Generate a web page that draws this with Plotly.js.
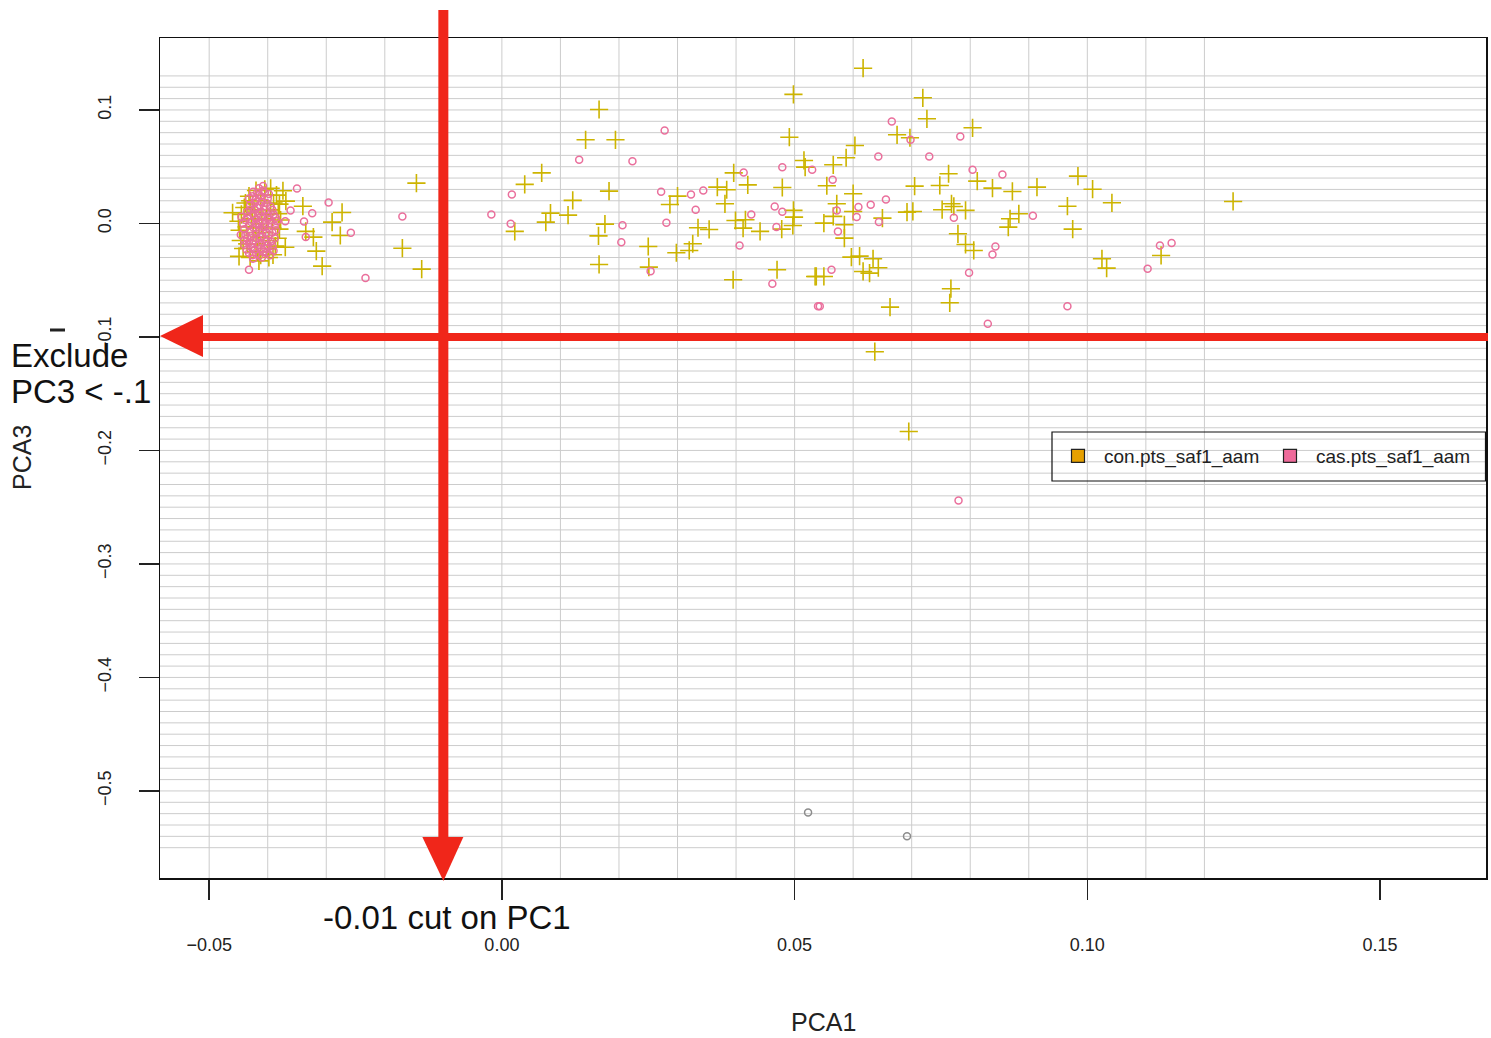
<!DOCTYPE html>
<html>
<head>
<meta charset="utf-8">
<script src="https://cdn.plot.ly/plotly-3.0.1.min.js"></script>
<style>
  html, body { margin: 0; padding: 0; background: #ffffff; }
  #chart { width: 1491px; height: 1038px; }
</style>
</head>
<body>
<div id="chart"></div>
<script>
// ---------------- data ----------------
// con.pts_saf1_aam (controls, "+")
const conX = [
  -0.0146, -0.0170, -0.0137, -0.0273, -0.0290, -0.0276, -0.0317, -0.0307, -0.0322, -0.0335,
  -0.0340, -0.0370, -0.0369, -0.0374, -0.0405, -0.0460, -0.0449, -0.0391, -0.0382,
  -0.0445, -0.0450, -0.0448, -0.0446, -0.0442, -0.0438, -0.0432, -0.0420, -0.0395, -0.0385,
  -0.0380, -0.0378, -0.0380, -0.0383, -0.0387, -0.0398, -0.0415, -0.0430, -0.0436, -0.0426,
  -0.0412, -0.0402, -0.0408, -0.0420, -0.0400, -0.0428, -0.0395, -0.0418, -0.0392, -0.0440,
  -0.0422, -0.0410, -0.0415, -0.0405, -0.0425, -0.0398, -0.0430, -0.0412, -0.0390, -0.0435,
  -0.0402, -0.0420,
  0.0498, 0.0491, 0.0516, 0.0518, 0.0479, 0.0498, 0.0499, 0.0497, 0.0478, 0.0470,
  0.0395, 0.0535, 0.0166, 0.0143, 0.0194, 0.0068, 0.0039, 0.0183, 0.0121, 0.0083,
  0.0075, 0.0113, 0.0022, 0.0176, 0.0165, 0.0166, 0.0250, 0.0251, 0.0298, 0.0320,
  0.0326, 0.0287, 0.0300, 0.0335, 0.0354, 0.0368, 0.0384, 0.0381, 0.0396, 0.0420,
  0.0399, 0.0416, 0.0412, 0.0441,
  0.0617, 0.0719, 0.0726, 0.0804, 0.0675, 0.0697, 0.0603, 0.0588, 0.0566, 0.0555,
  0.0600, 0.0572, 0.0600, 0.0566, 0.0550, 0.0585, 0.0585, 0.0597, 0.0611, 0.0634,
  0.0643, 0.0617, 0.0628, 0.0537, 0.0550, 0.0663, 0.0650, 0.0705, 0.0692, 0.0702,
  0.0763, 0.0748, 0.0768, 0.0772, 0.0752, 0.0792, 0.0812, 0.0838, 0.0872, 0.0914,
  0.0883, 0.0868, 0.0865, 0.0779, 0.0792, 0.0806, 0.0767, 0.0765, 0.0966, 0.0975,
  0.0984, 0.1009, 0.1042, 0.1025, 0.1033, 0.1126, 0.0637, 0.0695, 0.1249
];
const conY = [
  0.0355, -0.0218, -0.0402, 0.0097, 0.0012, -0.0106, -0.0244, -0.0376, -0.0120, -0.0070,
  0.0152, -0.0209, 0.0197, 0.0288, 0.0300, 0.0094, -0.0290, -0.0276, 0.0085,
  0.0080, 0.0020, -0.0060, -0.0150, -0.0220, 0.0180, 0.0240, 0.0290, 0.0310, 0.0250,
  0.0170, 0.0030, -0.0050, -0.0130, -0.0200, -0.0300, -0.0330, -0.0300, -0.0030, 0.0120,
  0.0200, 0.0080, -0.0080, -0.0180, -0.0220, 0.0040, 0.0120, -0.0250, -0.0040, 0.0140,
  0.0100, 0.0000, -0.0120, 0.0250, -0.0080, -0.0150, 0.0200, -0.0280, 0.0180, -0.0180,
  0.0040, -0.0040,
  0.1137, 0.0760, 0.0555, 0.0496, 0.0317, 0.0115, 0.0056, -0.0018, -0.0050, -0.0408,
  -0.0496, -0.0467, 0.1004, 0.0737, 0.0737, 0.0446, 0.0344, 0.0285, 0.0203, 0.0091,
  0.0012, 0.0073, -0.0070, -0.0006, -0.0109, -0.0361, -0.0203, -0.0385, -0.0258, -0.0238,
  -0.0179, 0.0167, 0.0241, -0.0038, -0.0053, 0.0320, 0.0297, 0.0173, 0.0446, 0.0340,
  0.0026, 0.0032, -0.0041, -0.0070,
  0.1368, 0.1107, 0.0922, 0.0843, 0.0781, 0.0755, 0.0687, 0.0579, 0.0517, 0.0332,
  0.0262, 0.0173, 0.0106, 0.0062, 0.0003, -0.0012, -0.0129, -0.0297, -0.0288, -0.0311,
  -0.0390, -0.0423, -0.0438, -0.0467, -0.0467, -0.0737, 0.0047, 0.0329, 0.0100, 0.0106,
  0.0438, 0.0335, 0.0173, 0.0150, 0.0121, 0.0115, 0.0373, 0.0311, 0.0282, 0.0320,
  0.0085, 0.0041, -0.0032, -0.0091, -0.0185, -0.0238, -0.0575, -0.0699, 0.0152, -0.0050,
  0.0417, 0.0302, 0.0182, -0.0311, -0.0394, -0.0282, -0.1130, -0.1833, 0.0194
];

// cas.pts_saf1_aam (cases, "o")
const casX = [
  -0.0350, -0.0361, -0.0324, -0.0296, -0.0338, -0.0370, -0.0335, -0.0258, -0.0233, -0.0170,
  -0.0018, -0.0432,
  -0.0425, -0.0415, -0.0405, -0.0420, -0.0410, -0.0400, -0.0430, -0.0418, -0.0405, -0.0395,
  -0.0435, -0.0425, -0.0412, -0.0400, -0.0390, -0.0438, -0.0428, -0.0418, -0.0405, -0.0395,
  -0.0440, -0.0430, -0.0420, -0.0408, -0.0398, -0.0435, -0.0424, -0.0412, -0.0402, -0.0388,
  -0.0440, -0.0428, -0.0416, -0.0404, -0.0392, -0.0432, -0.0420, -0.0408, -0.0396, -0.0425,
  -0.0410, -0.0445, -0.0446, -0.0384, -0.0386, -0.0415, -0.0408, -0.0422, -0.0414, -0.0410,
  -0.0432, -0.0422, -0.0412, -0.0402, -0.0392, -0.0430, -0.0420, -0.0410, -0.0398, -0.0388,
  -0.0432, -0.0424, -0.0414, -0.0402, -0.0392, -0.0438, -0.0428, -0.0418, -0.0406, -0.0394,
  -0.0432, -0.0422, -0.0412, -0.0400, -0.0390, -0.0436, -0.0426, -0.0414, -0.0402, -0.0418,
  -0.0408, -0.0426, -0.0398, -0.0416, -0.0406, -0.0434, -0.0396, -0.0426, -0.0410, -0.0420,
  -0.0442, -0.0440, -0.0386, -0.0404, -0.0414,
  0.0278, 0.0132, 0.0223, 0.0017, 0.0015, 0.0272, 0.0323, 0.0344, 0.0331, 0.0281,
  0.0206, 0.0204, 0.0254, 0.0413, 0.0426, 0.0406, 0.0462, 0.0479, 0.0466, 0.0479,
  0.0469, 0.0530, 0.0540,
  0.0666, 0.0698, 0.0783, 0.0643, 0.0730, 0.0565, 0.0804, 0.0855, 0.0656, 0.0630,
  0.0609, 0.0572, 0.0606, 0.0644, 0.0574, 0.0772, 0.0907, 0.0563, 0.0543, 0.0798,
  0.0843, 0.0838, 0.0830, 0.0966, 0.1103, 0.1124, 0.1144, 0.0780
];
const casY = [
  0.0308, 0.0115, 0.0090, 0.0185, 0.0018, 0.0020, -0.0120, -0.0082, -0.0480, 0.0062,
  0.0079, -0.0408,
  0.0280, 0.0250, 0.0270, 0.0210, 0.0190, 0.0220, 0.0160, 0.0140, 0.0120, 0.0150,
  0.0100, 0.0080, 0.0060, 0.0040, 0.0080, 0.0030, 0.0010, -0.0010, -0.0030, 0.0000,
  -0.0050, -0.0070, -0.0090, -0.0060, -0.0100, -0.0130, -0.0150, -0.0120, -0.0160, -0.0130,
  -0.0190, -0.0210, -0.0190, -0.0220, -0.0200, -0.0260, -0.0270, -0.0250, -0.0280, -0.0310,
  -0.0300, 0.0060, -0.0100, 0.0020, -0.0060, 0.0310, 0.0330, 0.0120, 0.0020, -0.0170,
  0.0220, 0.0180, 0.0240, 0.0180, 0.0120, 0.0120, 0.0040, 0.0100, 0.0060, -0.0020,
  -0.0020, -0.0040, -0.0060, -0.0080, -0.0080, -0.0100, -0.0110, -0.0130, -0.0140, -0.0160,
  -0.0170, -0.0230, -0.0220, -0.0190, -0.0240, -0.0230, -0.0280, -0.0280, -0.0260, 0.0270,
  0.0290, 0.0240, 0.0260, 0.0090, 0.0150, 0.0060, 0.0030, -0.0180, -0.0030, 0.0000,
  0.0000, -0.0150, 0.0050, 0.0000, 0.0160,
  0.0819, 0.0561, 0.0549, 0.0256, -0.0003, 0.0279, 0.0255, 0.0290, 0.0121, 0.0006,
  -0.0015, -0.0165, -0.0420, 0.0449, 0.0079, -0.0194, -0.0531, 0.0496, 0.0150, 0.0103,
  -0.0032, 0.0473, -0.0730,
  0.0899, 0.0737, 0.0767, 0.0590, 0.0590, 0.0385, 0.0473, 0.0432, 0.0211, 0.0165,
  0.0144, 0.0115, 0.0056, 0.0012, -0.0070, 0.0050, 0.0068, -0.0408, -0.0730, -0.0434,
  -0.0203, -0.0273, -0.0884, -0.0730, -0.0399, -0.0194, -0.0173, -0.2440
];

// unlabelled grey points
const otherX = [0.0523, 0.0692];
const otherY = [-0.5190, -0.5400];

const seriesNames = ['con.pts_saf1_aam', 'cas.pts_saf1_aam'];
const xTickVals = [-0.05, 0.00, 0.05, 0.10, 0.15];
const xTickText = ['\u22120.05', '0.00', '0.05', '0.10', '0.15'];
const yTickVals = [-0.5, -0.4, -0.3, -0.2, -0.1, 0.0, 0.1];
const yTickText = ['\u22120.5', '\u22120.4', '\u22120.3', '\u22120.2', '\u22120.1', '0.0', '0.1'];
const pc1Cut = -0.01;
const pc3Cut = -0.1;

// ---------------- styling ----------------
const conColor = '#cdb400';
const casColor = '#ea6f9c';
const legendCon = '#e6a000';
const legendCas = '#ee6a9a';
const arrowRed = '#f0261a';
const gridColor = '#cccccc';
const xRange = [-0.0584, 0.1681];
const yRange = [-0.5767, 0.1634];
const FONT = 'Liberation Sans, Arial, Helvetica, sans-serif';

const traces = [
  { type: 'scatter', mode: 'markers', x: conX, y: conY, name: seriesNames[0], showlegend: false,
    marker: { symbol: 'cross-thin-open', size: 13, color: conColor, line: { width: 1.6, color: conColor } } },
  { type: 'scatter', mode: 'markers', x: casX, y: casY, name: seriesNames[1], showlegend: false,
    marker: { symbol: 'circle-open', size: 7, color: casColor, line: { width: 1.5, color: casColor } } },
  { type: 'scatter', mode: 'markers', x: otherX, y: otherY, name: 'other', showlegend: false,
    marker: { symbol: 'circle-open', size: 7, color: '#8c8c8c', line: { width: 1.5, color: '#8c8c8c' } } },
  // legend swatches
  { type: 'scatter', mode: 'markers', x: [null], y: [null], name: seriesNames[0], showlegend: true,
    marker: { symbol: 'square', size: 13, color: legendCon, line: { width: 1.2, color: '#222' } } },
  { type: 'scatter', mode: 'markers', x: [null], y: [null], name: seriesNames[1], showlegend: true,
    marker: { symbol: 'square', size: 13, color: legendCas, line: { width: 1.2, color: '#222' } } }
];

// grid lines (every 0.01) drawn as shapes, limited like the original
const shapes = [];
for (let i = -55; i <= 13; i++) {
  const v = i / 100;
  shapes.push({ type: 'line', layer: 'below', xref: 'paper', yref: 'y', x0: 0, x1: 1, y0: v, y1: v,
    line: { color: gridColor, width: 1 } });
}
for (let i = -5; i <= 12; i++) {
  const v = i / 100;
  shapes.push({ type: 'line', layer: 'below', xref: 'x', yref: 'paper', x0: v, x1: v, y0: 0, y1: 1,
    line: { color: gridColor, width: 1 } });
}

const cutPX = (pc1Cut - xRange[0]) / (xRange[1] - xRange[0]);
const cutPY = (pc3Cut - yRange[0]) / (yRange[1] - yRange[0]);

// legend frame (taller than Plotly's own box)
shapes.push({ type: 'rect', layer: 'above', xref: 'paper', yref: 'paper',
  xsizemode: 'pixel', xanchor: 0, x0: 892, x1: 1325.5,
  ysizemode: 'pixel', yanchor: 0, y0: 397, y1: 446,
  line: { color: '#111', width: 1.2 }, fillcolor: 'rgba(0,0,0,0)' });

// vertical red arrow (PC1 cut)
shapes.push({ type: 'line', layer: 'above', xref: 'paper', yref: 'paper',
  x0: cutPX, x1: cutPX, ysizemode: 'pixel', yanchor: 0, y0: 38, y1: 868,
  line: { color: arrowRed, width: 10 } });
shapes.push({ type: 'path', layer: 'above', xref: 'paper', yref: 'paper',
  xsizemode: 'pixel', xanchor: cutPX, ysizemode: 'pixel', yanchor: 0,
  path: 'M -21 41 L 20 41 L 0 -3 Z', fillcolor: arrowRed, line: { width: 0 } });
// horizontal red arrow (PC3 cut)
shapes.push({ type: 'line', layer: 'above', xref: 'paper', yref: 'paper',
  xsizemode: 'pixel', xanchor: 0, x0: 40, x1: 1328, y0: cutPY, y1: cutPY,
  line: { color: arrowRed, width: 8 } });
shapes.push({ type: 'path', layer: 'above', xref: 'paper', yref: 'paper',
  xsizemode: 'pixel', xanchor: 0, ysizemode: 'pixel', yanchor: cutPY,
  path: 'M 0 1 L 43 22 L 43 -20 Z', fillcolor: arrowRed, line: { width: 0 } });
// small dash above "Exclude"
shapes.push({ type: 'line', layer: 'above', xref: 'paper', yref: 'paper',
  xsizemode: 'pixel', xanchor: 0, x0: -110, x1: -95, ysizemode: 'pixel', yanchor: 0, y0: 548, y1: 548,
  line: { color: '#222', width: 3 } });

const annotations = [
  { text: 'Exclude', xref: 'paper', yref: 'paper', x: -151 / 1326, y: (878 - 355) / 840,
    xanchor: 'left', yanchor: 'middle', showarrow: false, font: { family: FONT, size: 33, color: '#111' } },
  { text: 'PC3 &lt; -.1', xref: 'paper', yref: 'paper', x: -151 / 1326, y: (878 - 392) / 840,
    xanchor: 'left', yanchor: 'middle', showarrow: false, font: { family: FONT, size: 33, color: '#111' } },
  { text: '-0.01 cut on PC1', xref: 'paper', yref: 'paper', x: (447 - 160) / 1326, y: (878 - 917) / 840,
    xanchor: 'center', yanchor: 'middle', showarrow: false, font: { family: FONT, size: 33, color: '#111' } },
  { text: 'PCA1', xref: 'paper', yref: 'paper', x: 0.5, y: (878 - 1022) / 840,
    xanchor: 'center', yanchor: 'middle', showarrow: false, font: { family: FONT, size: 25, color: '#222' } },
  { text: 'PCA3', xref: 'paper', yref: 'paper', x: (22 - 160) / 1326, y: 0.5, textangle: -90,
    xanchor: 'center', yanchor: 'middle', showarrow: false, font: { family: FONT, size: 25, color: '#222' } }
];

const layout = {
  width: 1491, height: 1038,
  margin: { l: 160, r: 5, t: 38, b: 160, pad: 0, autoexpand: false },
  paper_bgcolor: '#ffffff', plot_bgcolor: '#ffffff',
  font: { family: FONT, color: '#222' },
  xaxis: {
    range: xRange, showgrid: false, zeroline: false,
    showline: true, mirror: true, linecolor: '#111', linewidth: 1.5,
    ticks: 'outside', ticklen: 20, tickwidth: 1.5, tickcolor: '#222',
    tickvals: xTickVals, ticktext: xTickText, ticklabelstandoff: 30,
    tickfont: { family: FONT, size: 18, color: '#222' }
  },
  yaxis: {
    range: yRange, showgrid: false, zeroline: false,
    showline: true, mirror: true, linecolor: '#111', linewidth: 1.5,
    ticks: 'outside', ticklen: 20, tickwidth: 1.5, tickcolor: '#222',
    tickvals: yTickVals, ticktext: yTickText, tickangle: -90, ticklabelstandoff: 20,
    tickfont: { family: FONT, size: 18, color: '#222' }
  },
  legend: {
    orientation: 'h', x: (1052 - 160) / 1326, y: (878 - 437) / 840, xanchor: 'left', yanchor: 'top',
    bgcolor: 'rgba(255,255,255,0)', borderwidth: 0,
    itemwidth: 42, entrywidth: 155, entrywidthmode: 'pixels',
    font: { family: FONT, size: 19, color: '#222' }
  },
  shapes: shapes,
  annotations: annotations
};

Plotly.newPlot('chart', traces, layout, { displayModeBar: false, staticPlot: true });
</script>
</body>
</html>
